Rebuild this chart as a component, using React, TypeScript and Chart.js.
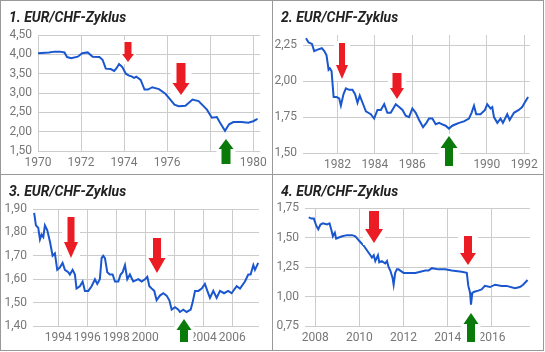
import React, { useEffect, useRef } from 'react';
import { Chart, registerables } from 'chart.js';
Chart.register(...registerables);

// ---------- Panel 1: 1970–1980 ----------
const TITLE_1 = '1. EUR/CHF-Zyklus';
const YEARS_1 = [1970.0, 1970.51, 1970.77, 1971.02, 1971.23, 1971.35, 1971.54, 1971.85, 1972.05, 1972.31, 1972.54, 1972.85, 1973.0, 1973.15, 1973.38, 1973.54, 1973.65, 1973.77, 1973.92, 1974.08, 1974.23, 1974.35, 1974.46, 1974.57, 1974.77, 1974.95, 1975.11, 1975.31, 1975.62, 1975.92, 1976.15, 1976.34, 1976.54, 1976.85, 1977.18, 1977.46, 1977.85, 1978.08, 1978.31, 1978.46, 1978.69, 1978.88, 1979.08, 1979.46, 1979.77, 1980.0, 1980.2];
const RATE_1 = [4.03, 4.05, 4.07, 4.07, 4.05, 3.93, 3.90, 3.94, 4.03, 4.05, 3.94, 3.93, 3.86, 3.63, 3.62, 3.57, 3.64, 3.75, 3.67, 3.50, 3.45, 3.43, 3.39, 3.42, 3.34, 3.09, 3.09, 3.15, 3.10, 2.98, 2.83, 2.70, 2.66, 2.67, 2.83, 2.79, 2.57, 2.36, 2.38, 2.23, 2.02, 2.19, 2.25, 2.25, 2.23, 2.27, 2.33];
const X_TICKS_1 = [1970, 1972, 1974, 1976, 1978, 1980];
const X_LABELS_1 = ['1970', '1972', '1974', '1976', '', '1980'];
const Y_TICKS_1 = [1.5, 2, 2.5, 3, 3.5, 4, 4.5];
const Y_LABELS_1 = ['1,50', '2,00', '2,50', '3,00', '3,50', '4,00', '4,50'];
const ARROWS_1 = [
  { x: 1974.19, y: 3.81, dir: 'down' },
  { x: 1976.64, y: 2.96, dir: 'down' },
  { x: 1978.73, y: 1.8, dir: 'up' },
];

// ---------- Panel 2: 1980–1992 ----------
const TITLE_2 = '2. EUR/CHF-Zyklus';
const YEARS_2 = [1980.31, 1980.45, 1980.63, 1980.75, 1980.93, 1981.16, 1981.29, 1981.41, 1981.52, 1981.59, 1981.68, 1981.79, 1981.95, 1982.09, 1982.18, 1982.32, 1982.45, 1982.62, 1982.8, 1982.94, 1983.07, 1983.19, 1983.34, 1983.52, 1983.78, 1983.96, 1984.14, 1984.32, 1984.5, 1984.67, 1984.85, 1985.12, 1985.3, 1985.48, 1985.65, 1985.83, 1986.01, 1986.19, 1986.37, 1986.58, 1986.76, 1986.9, 1987.08, 1987.26, 1987.44, 1987.61, 1987.79, 1987.97, 1988.15, 1988.33, 1988.51, 1988.77, 1989.04, 1989.18, 1989.31, 1989.43, 1989.66, 1989.9, 1990.02, 1990.2, 1990.29, 1990.38, 1990.56, 1990.73, 1990.86, 1991.09, 1991.22, 1991.45, 1991.71, 1991.89, 1992.07, 1992.21];
const RATE_2 = [2.30, 2.27, 2.26, 2.21, 2.22, 2.23, 2.21, 2.18, 2.08, 2.09, 2.07, 1.89, 1.89, 1.88, 1.83, 1.91, 1.95, 1.94, 1.94, 1.91, 1.85, 1.90, 1.85, 1.79, 1.77, 1.74, 1.80, 1.80, 1.84, 1.78, 1.78, 1.84, 1.82, 1.80, 1.76, 1.75, 1.81, 1.78, 1.73, 1.68, 1.71, 1.74, 1.74, 1.70, 1.71, 1.70, 1.69, 1.67, 1.69, 1.70, 1.71, 1.72, 1.74, 1.78, 1.83, 1.77, 1.77, 1.80, 1.84, 1.81, 1.82, 1.75, 1.71, 1.74, 1.71, 1.77, 1.73, 1.78, 1.80, 1.82, 1.86, 1.89];
const X_TICKS_2 = [1982, 1984, 1986, 1988, 1990, 1992];
const X_LABELS_2 = ['1982', '1984', '1986', '', '1990', '1992'];
const Y_TICKS_2 = [1.5, 1.75, 2, 2.25];
const Y_LABELS_2 = ['1,50', '1,75', '2,00', '2,25'];
const ARROWS_2 = [
  { x: 1982.24, y: 2.014, dir: 'down' },
  { x: 1985.19, y: 1.875, dir: 'down' },
  { x: 1987.97, y: 1.615, dir: 'up' },
];

// ---------- Panel 3: 1992–2007 ----------
const TITLE_3 = '3. EUR/CHF-Zyklus';
const YEARS_3 = [1992.34, 1992.46, 1992.62, 1992.74, 1992.85, 1992.97, 1993.08, 1993.24, 1993.43, 1993.61, 1993.77, 1993.93, 1994.11, 1994.3, 1994.46, 1994.69, 1994.8, 1994.99, 1995.15, 1995.26, 1995.49, 1995.68, 1995.84, 1996.07, 1996.3, 1996.53, 1996.69, 1996.87, 1996.99, 1997.1, 1997.22, 1997.38, 1997.56, 1997.75, 1997.91, 1998.14, 1998.3, 1998.44, 1998.6, 1998.76, 1998.94, 1999.17, 1999.52, 1999.75, 1999.98, 2000.14, 2000.28, 2000.44, 2000.62, 2000.78, 2001.01, 2001.24, 2001.47, 2001.66, 2001.82, 2002.05, 2002.28, 2002.39, 2002.62, 2002.85, 2003.13, 2003.26, 2003.43, 2003.66, 2003.89, 2004.11, 2004.28, 2004.46, 2004.69, 2004.92, 2005.15, 2005.43, 2005.72, 2005.95, 2006.3, 2006.53, 2006.87, 2007.1, 2007.26, 2007.45, 2007.56, 2007.79];
const RATE_3 = [1.883, 1.83, 1.82, 1.77, 1.79, 1.78, 1.83, 1.81, 1.76, 1.70, 1.71, 1.64, 1.65, 1.67, 1.64, 1.63, 1.62, 1.64, 1.62, 1.56, 1.57, 1.59, 1.55, 1.55, 1.57, 1.60, 1.58, 1.60, 1.69, 1.70, 1.69, 1.63, 1.62, 1.62, 1.59, 1.59, 1.62, 1.63, 1.66, 1.60, 1.62, 1.59, 1.60, 1.59, 1.60, 1.61, 1.57, 1.56, 1.55, 1.51, 1.53, 1.54, 1.53, 1.51, 1.47, 1.48, 1.47, 1.46, 1.47, 1.46, 1.47, 1.50, 1.55, 1.55, 1.56, 1.58, 1.55, 1.52, 1.55, 1.52, 1.55, 1.54, 1.55, 1.54, 1.57, 1.56, 1.59, 1.62, 1.62, 1.66, 1.64, 1.67];
const X_TICKS_3 = [1994, 1996, 1998, 2000, 2002, 2004, 2006];
const X_LABELS_3 = ['1994', '1996', '1998', '2000', '', '2004', '2006'];
const Y_TICKS_3 = [1.4, 1.5, 1.6, 1.7, 1.8, 1.9];
const Y_LABELS_3 = ['1,40', '1,50', '1,60', '1,70', '1,80', '1,90'];
const ARROWS_3 = [
  { x: 1994.88, y: 1.69, dir: 'down' },
  { x: 2000.79, y: 1.627, dir: 'down' },
  { x: 2002.68, y: 1.428, dir: 'up' },
];

// ---------- Panel 4: 2007–2017 ----------
const TITLE_4 = '4. EUR/CHF-Zyklus';
const YEARS_4 = [2007.71, 2007.83, 2007.94, 2008.05, 2008.14, 2008.24, 2008.35, 2008.54, 2008.65, 2008.74, 2008.8, 2008.89, 2008.95, 2009.07, 2009.22, 2009.44, 2009.67, 2009.82, 2010.0, 2010.2, 2010.35, 2010.5, 2010.57, 2010.65, 2010.72, 2010.84, 2010.9, 2011.02, 2011.17, 2011.25, 2011.32, 2011.4, 2011.5, 2011.55, 2011.62, 2011.7, 2011.77, 2012.0, 2012.53, 2012.98, 2013.13, 2013.28, 2013.58, 2013.88, 2014.18, 2014.63, 2014.86, 2014.93, 2015.01, 2015.05, 2015.11, 2015.2, 2015.38, 2015.53, 2015.68, 2015.91, 2016.14, 2016.44, 2016.66, 2017.04, 2017.26, 2017.41, 2017.61];
const RATE_4 = [1.67, 1.66, 1.66, 1.60, 1.57, 1.61, 1.62, 1.61, 1.62, 1.56, 1.51, 1.54, 1.49, 1.50, 1.51, 1.52, 1.52, 1.51, 1.47, 1.43, 1.39, 1.35, 1.33, 1.35, 1.30, 1.35, 1.29, 1.30, 1.28, 1.30, 1.25, 1.22, 1.16, 1.10, 1.20, 1.23, 1.23, 1.20, 1.20, 1.22, 1.22, 1.24, 1.23, 1.23, 1.22, 1.21, 1.20, 1.09, 1.03, 0.93, 1.03, 1.04, 1.05, 1.06, 1.09, 1.08, 1.10, 1.09, 1.09, 1.07, 1.08, 1.10, 1.14];
const X_TICKS_4 = [2008, 2010, 2012, 2014, 2016];
const X_LABELS_4 = ['2008', '2010', '2012', '2014', '2016'];
const Y_TICKS_4 = [0.75, 1, 1.25, 1.5, 1.75];
const Y_LABELS_4 = ['0,75', '1,00', '1,25', '1,50', '1,75'];
const ARROWS_4 = [
  { x: 2010.68, y: 1.453, dir: 'down' },
  { x: 2014.92, y: 1.266, dir: 'down' },
  { x: 2015.06, y: 0.858, dir: 'up' },
];

// ---------- styles ----------
const LINE_COLOR = '#1a57cf';
const GRID_COLOR = '#cccccc';
const TICK_COLOR = '#777777';
const BORDER_COLOR = '#999999';
const RED = '#ec1c24';
const GREEN = '#0a7b0a';
const FONT = 'Roboto';

// arrow shapes (w: head width, len: total length, sw: shaft width, hh: head height)
const ARROW_SHAPES_1 = [
  { w: 12, len: 20, sw: 7, hh: 8 },
  { w: 17, len: 32, sw: 9, hh: 12 },
  { w: 15, len: 25, sw: 9, hh: 10 },
];
const ARROW_SHAPES_2 = [
  { w: 12, len: 36, sw: 6, hh: 14 },
  { w: 14, len: 26, sw: 9, hh: 11 },
  { w: 17, len: 30, sw: 8, hh: 12 },
];
const ARROW_SHAPES_3 = [
  { w: 14, len: 41, sw: 7, hh: 16 },
  { w: 17, len: 35, sw: 8, hh: 15 },
  { w: 15, len: 23, sw: 8, hh: 11 },
];
const ARROW_SHAPES_4 = [
  { w: 18, len: 32, sw: 10, hh: 14 },
  { w: 16, len: 29, sw: 8, hh: 12 },
  { w: 15, len: 29, sw: 8, hh: 11 },
];

type PanelCfg = {
  title: string;
  years: number[];
  values: number[];
  xTicks: number[];
  xLabels: string[];
  yTicks: number[];
  yLabels: string[];
  xMin: number;
  xMax: number;
  yMin: number;
  yMax: number;
  arrows: { x: number; y: number; dir: string }[];
  shapes: { w: number; len: number; sw: number; hh: number }[];
  left: number;
  top: number;
  width: number;
  height: number;
  yW: number;
  xH: number;
  padR: number;
  padT: number;
};

const PANELS: PanelCfg[] = [
  {
    title: TITLE_1, years: YEARS_1, values: RATE_1, xTicks: X_TICKS_1, xLabels: X_LABELS_1,
    yTicks: Y_TICKS_1, yLabels: Y_LABELS_1, xMin: 1970, xMax: 1980.32, yMin: 1.5, yMax: 4.5,
    arrows: ARROWS_1, shapes: ARROW_SHAPES_1,
    left: 1, top: 1, width: 271, height: 173, yW: 37, xH: 23, padR: 10, padT: 34,
  },
  {
    title: TITLE_2, years: YEARS_2, values: RATE_2, xTicks: X_TICKS_2, xLabels: X_LABELS_2,
    yTicks: Y_TICKS_2, yLabels: Y_LABELS_2, xMin: 1980.15, xMax: 1992.29, yMin: 1.5, yMax: 2.322,
    arrows: ARROWS_2, shapes: ARROW_SHAPES_2,
    left: 273, top: 1, width: 270, height: 173, yW: 30, xH: 21, padR: 13, padT: 34,
  },
  {
    title: TITLE_3, years: YEARS_3, values: RATE_3, xTicks: X_TICKS_3, xLabels: X_LABELS_3,
    yTicks: Y_TICKS_3, yLabels: Y_LABELS_3, xMin: 1992.26, xMax: 2007.84, yMin: 1.4, yMax: 1.9,
    arrows: ARROWS_3, shapes: ARROW_SHAPES_3,
    left: 1, top: 175, width: 271, height: 175, yW: 32, xH: 24, padR: 13, padT: 34,
  },
  {
    title: TITLE_4, years: YEARS_4, values: RATE_4, xTicks: X_TICKS_4, xLabels: X_LABELS_4,
    yTicks: Y_TICKS_4, yLabels: Y_LABELS_4, xMin: 2007.54, xMax: 2017.72, yMin: 0.75, yMax: 1.75,
    arrows: ARROWS_4, shapes: ARROW_SHAPES_4,
    left: 273, top: 175, width: 270, height: 175, yW: 32, xH: 24, padR: 13, padT: 33,
  },
];

function Panel({ cfg }: { cfg: PanelCfg }) {
  const ref = useRef<HTMLCanvasElement | null>(null);
  useEffect(() => {
    if (!ref.current) return;
    const arrowPlugin = {
      id: 'arrows',
      afterDatasetsDraw(chart: any) {
        const ctx = chart.ctx;
        const xs = chart.scales.x;
        const ys = chart.scales.y;
        cfg.arrows.forEach((a, i) => {
          const s = cfg.shapes[i];
          const cx = Math.round(xs.getPixelForValue(a.x));
          const tip = Math.round(ys.getPixelForValue(a.y));
          const sign = a.dir === 'down' ? -1 : 1; // direction from tip to tail
          const tail = tip + sign * s.len;
          const headBase = tip + sign * s.hh;
          ctx.save();
          ctx.fillStyle = '#ffffff';
          const top = Math.min(tip, tail) - 2;
          ctx.fillRect(cx - s.w / 2 - 2, top, s.w + 4, s.len + 4);
          ctx.fillStyle = a.dir === 'down' ? RED : GREEN;
          ctx.beginPath();
          ctx.moveTo(cx, tip);
          ctx.lineTo(cx - s.w / 2, headBase);
          ctx.lineTo(cx - s.sw / 2, headBase);
          ctx.lineTo(cx - s.sw / 2, tail);
          ctx.lineTo(cx + s.sw / 2, tail);
          ctx.lineTo(cx + s.sw / 2, headBase);
          ctx.lineTo(cx + s.w / 2, headBase);
          ctx.closePath();
          ctx.fill();
          ctx.restore();
        });
      },
    };
    const titlePlugin = {
      id: 'panelTitle',
      afterDraw(chart: any) {
        const ctx = chart.ctx;
        ctx.save();
        ctx.fillStyle = '#222222';
        ctx.font = `italic bold 14px ${FONT}`;
        ctx.textBaseline = 'alphabetic';
        ctx.textAlign = 'left';
        ctx.fillText(cfg.title, 8, 21);
        ctx.restore();
      },
    };
    const chart = new Chart(ref.current, {
      type: 'line',
      data: {
        datasets: [
          {
            data: cfg.years.map((x, i) => ({ x, y: cfg.values[i] })),
            borderColor: LINE_COLOR,
            borderWidth: 2,
            pointRadius: 0,
            tension: 0,
            fill: false,
          },
        ],
      },
      options: {
        animation: false,
        responsive: false,
        layout: { padding: { left: 0, right: cfg.padR, top: cfg.padT, bottom: 0 } },
        plugins: {
          legend: { display: false },
          tooltip: { enabled: false },
          title: { display: false },
        },
        scales: {
          x: {
            type: 'linear',
            min: cfg.xMin,
            max: cfg.xMax,
            afterFit: (s: any) => { s.height = cfg.xH; },
            afterBuildTicks: (s: any) => { s.ticks = cfg.xTicks.map((v) => ({ value: v })); },
            ticks: {
              autoSkip: false,
              maxRotation: 0,
              padding: 5,
              color: TICK_COLOR,
              font: { family: FONT, size: 12 },
              callback: (v: any) => cfg.xLabels[cfg.xTicks.indexOf(Number(v))] ?? '',
            },
            grid: { color: GRID_COLOR, drawTicks: false, lineWidth: 1 },
            border: { display: false },
          },
          y: {
            type: 'linear',
            min: cfg.yMin,
            max: cfg.yMax,
            afterFit: (s: any) => { s.width = cfg.yW; },
            afterBuildTicks: (s: any) => { s.ticks = cfg.yTicks.map((v) => ({ value: v })); },
            ticks: {
              padding: 6,
              color: TICK_COLOR,
              font: { family: FONT, size: 12 },
              callback: (v: any) => {
                const idx = cfg.yTicks.findIndex((t) => Math.abs(t - Number(v)) < 1e-6);
                return idx >= 0 ? cfg.yLabels[idx] : '';
              },
            },
            grid: { color: GRID_COLOR, drawTicks: false, lineWidth: 1 },
            border: { display: false },
          },
        },
      },
      plugins: [arrowPlugin, titlePlugin],
    } as any);
    return () => chart.destroy();
  }, [cfg]);
  return (
    <canvas
      ref={ref}
      width={cfg.width}
      height={cfg.height}
      style={{ position: 'absolute', left: cfg.left, top: cfg.top, width: cfg.width, height: cfg.height }}
    />
  );
}

export default function App() {
  return (
    <div style={{ position: 'absolute', left: 0, top: 0, width: 545, height: 352, background: '#ffffff', overflow: 'hidden' }}>
      <div style={{ position: 'absolute', left: 0, top: 0, width: 544, height: 351, border: `1px solid ${BORDER_COLOR}`, boxSizing: 'border-box' }} />
      <div style={{ position: 'absolute', left: 272, top: 0, width: 1, height: 351, background: BORDER_COLOR }} />
      <div style={{ position: 'absolute', left: 0, top: 174, width: 544, height: 1, background: BORDER_COLOR }} />
      {PANELS.map((p, i) => (
        <Panel key={i} cfg={p} />
      ))}
    </div>
  );
}
